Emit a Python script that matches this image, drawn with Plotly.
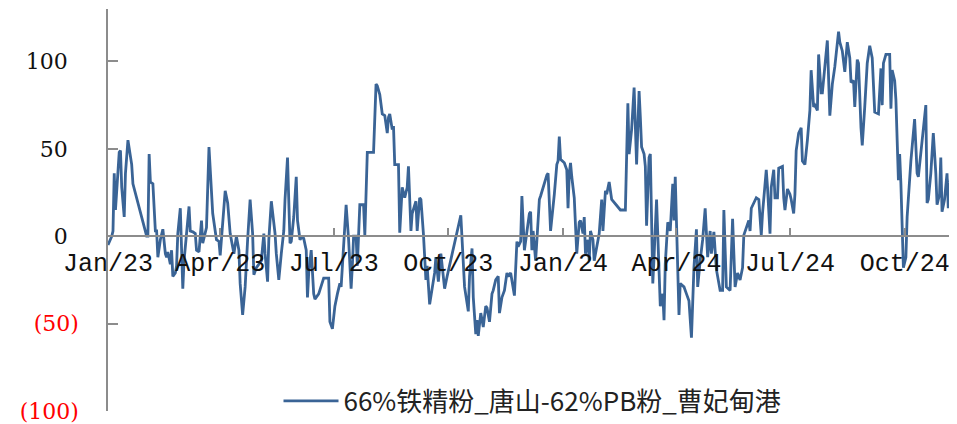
import pandas as pd
import plotly.graph_objects as go

# Day offsets from 2023-01-01 and spread values
days_2023 = [0,3,4,5,6,7,9,10,11,13,
             14,16,19,20,31,32,33,34,36,38,
             39,40,42,44,46,47,48,50,51,52,
             54,55,56,58,59,60,61,63,65,66,
             68,70,71,73,75,76,79,81,84,87,
             89,90,92,94,96,98,101,103,105,106,
             108,110,112,114,116,117,119,121,123,125,
             126,128,129,131,134,135,137,139,141,142,
             144,146,147,149,151,152,154,155,157,159,
             160,161,163,165,166,169,171,173,177,178,
             180,182,184,186,187,189,191,193,195,196,
             197,199,200,202,205,206,208,213,215,216,
             218,220,222,224,225,226,228,229,230,233,
             234,236,238,240,241,243,244,247,248,250,
             251,253,255,256,258,260,262,263,265,267,
             268,270,272,283,286,288,289,290,292,293,295]
vals_2023 = [-5,0,3,36,15,28,48,49,28,11,
             36,55,41,30,0,0,47,31,30,3,
             3,-12,-2,4,-10,-12,-9,-16,-8,-23,
             -21,-17,1.5,16,-10,-30,-14,2,17,3,
             2.5,1.5,-8,-9,9,-4,5,51,13,-2,
             -3,-11,9,26,19,1.5,-10,0,-8,-27,
             -45,-29,-2,21,1.5,-22,-18,-16,-14,1.5,
             -10,-26,-2,20,1.5,-10,-25,-10,3,21,
             45,-4,-3,11,34,9,-2,-1,-1.3,-8,
             -35,-21,-8,-33,-36,-33,-29,-24,-24,-49,
             -53,-40,-33,-27,-29,-2,18,-2,-30,-17,
             0,0,-17,18,18,0.6,48,48,87,86,
             81,70,69,59,68,70,61,63,41,41,
             2,28,22,28,40,3,13,20,3,22,
             21,1.5,-25,-17,-39,-30,-21,-12,-26,-10,
             -17,-30,-23,12,-29,-38,-43,-23,-7,-35,-56]

days_2024 = [296,297,299,301,303,304,306,308,309,311,
             313,314,316,318,320,321,323,326,328,329,
             331,332,334,336,338,339,340,341,343,345,
             346,347,350,352,353,355,358,360,361,362,
             363,366,368,369,370,371,372,374,376,378,
             379,381,382,383,385,386,387,389,390,392,
             394,396,397,399,400,402,404,411,415,417,
             418,420,422,424,426,427,428,430,431,432,
             434,435,437,438,440,443,445,446,447,449,
             451,453,454,455,456,458,459,462,464,466,
             468,470,472,473,475,477,479,480,481,483,
             484,486,488,491,493,494,496,499,501,503,
             505,507,509,510,512,514,515,516,518,520,
             522,524,525,528,529,531,532,534,535,537,
             538,541,542,543,545,547,548,550,551,552,
             554,556,557,559,561,563,564,566,567,569,
             570,572,573,575,577,579,581,583,585,586,
             587,589,591,593,595,596,598,599,601,602,
             604,605,607,609,611,613,615,617,618,620,
             621,622,624,627,628,629,631,632,634,635,
             636,638,640,641,644,647,649,650,652,654,
             656,657,658,660,662,664,665,667,668,669,
             671,673,674,676,677,679,681]
vals_2024 = [-48,-57,-44,-52,-40,-41,-49,-33,-31,-25,
             -23,-44,-35,-31,-21,-23,-21,-34,-3,-6,
             -3,23,-8,1.5,13,14,-8,3,-14,9,
             21,23,31,35,36,3,24,41,43,57,
             44,42,38,16,36,42,34,22,-10,8,
             9,1.5,11,-10,-2,-14,3,-2,-14,-6,
             1.5,21,3,26,24,31,21,15,15,76,
             47,61,85,41,83,68,51,47,40,6,
             45,47,-27,-12,21,-40,-33,-48,-16,8,
             3,30,9,34,11,-45,-27,-29,-33,-37,
             -58,-18,4,-29,-14,-2,16,1.5,-12,3,
             -10,2.5,-19,-31,-31,15,-29,-31,10,-29,
             -21,-25,-18,0.6,5,9,3,16,19,22,
             21,0.6,13,38,28,1.5,28,38,22,22,
             39,40,22,15,27,24,21,13,24,49,
             59,62,43,41,55,72,95,74,75,72,
             104,82,82,97,112,69,87,97,110,117,
             111,106,94,111,102,88,89,74,101,99,
             62,52,74,99,109,102,71,70,70,96,
             75,99,104,104,73,95,89,78,32,47,
             30,-18,-12,11,43,67,36,34,47,59,
             75,19,21,36,59,36,18,24,45,14,
             21,36,16,36,10,36,38]

assert len(days_2023) == len(vals_2023), (len(days_2023), len(vals_2023))
assert len(days_2024) == len(vals_2024), (len(days_2024), len(vals_2024))

series_name = "66%铁精粉_唐山-62%PB粉_曹妃甸港"
start_date = "2023-01-01"
end_date = "2024-11-12"
x_tick_dates = ["2023-01-01", "2023-04-01", "2023-07-01", "2023-10-01",
                "2024-01-01", "2024-04-01", "2024-07-01", "2024-10-01"]
x_tick_labels = ["Jan/23", "Apr/23", "Jul/23", "Oct/23",
                 "Jan/24", "Apr/24", "Jul/24", "Oct/24"]
y_tick_vals = [100, 50, 0, -50, -100]
y_tick_labels = ["100\u2002", "50\u2002", "0\u2002",
                 '<span style="color:#ff0000">(50)</span>',
                 '<span style="color:#ff0000">(100)</span>']
y_min, y_max = -100, 130

dates = pd.Timestamp(start_date) + pd.to_timedelta(days_2023 + days_2024, unit="D")
values = vals_2023 + vals_2024

fig = go.Figure()
fig.add_trace(go.Scatter(
    x=dates, y=values, mode="lines", name=series_name,
    line=dict(color="#3A6496", width=2.8),
    showlegend=True,
))

# page body adds an 8px offset; figure sized so the plot area lands where the reference has it
fig.update_layout(
    width=949, height=416,
    margin=dict(l=100, r=0, t=1, b=13, autoexpand=False),
    paper_bgcolor="white", plot_bgcolor="white",
    showlegend=True,
    legend=dict(
        x=0.5, y=0.025, xanchor="center", yanchor="middle",
        orientation="h",
        font=dict(family="Noto Sans CJK SC", size=26, color="#222222"),
        bgcolor="rgba(0,0,0,0)",
        itemwidth=55,
    ),
    xaxis=dict(
        type="date",
        range=[start_date, end_date],
        anchor="free",
        position=(0 - y_min) / (y_max - y_min),
        automargin=False,
        showline=True, linecolor="#8c8c8c", linewidth=1.5,
        ticks="inside", ticklen=7, tickcolor="#8c8c8c", tickwidth=1.5,
        tickvals=x_tick_dates, ticktext=x_tick_labels,
        tickfont=dict(family="Liberation Mono", size=25, color="#111111"),
        ticklabelstandoff=4,
        showgrid=False, zeroline=False,
    ),
    yaxis=dict(
        range=[y_min, y_max],
        automargin=False,
        showline=True, linecolor="#8c8c8c", linewidth=1.5,
        ticks="inside", ticklen=10, tickcolor="#8c8c8c", tickwidth=1.5,
        tickvals=y_tick_vals, ticktext=y_tick_labels,
        tickfont=dict(family="DejaVu Serif", size=22, color="#111111"),
        ticklabelstandoff=23,
        showgrid=False, zeroline=False,
    ),
)

fig.write_html("out.html")
